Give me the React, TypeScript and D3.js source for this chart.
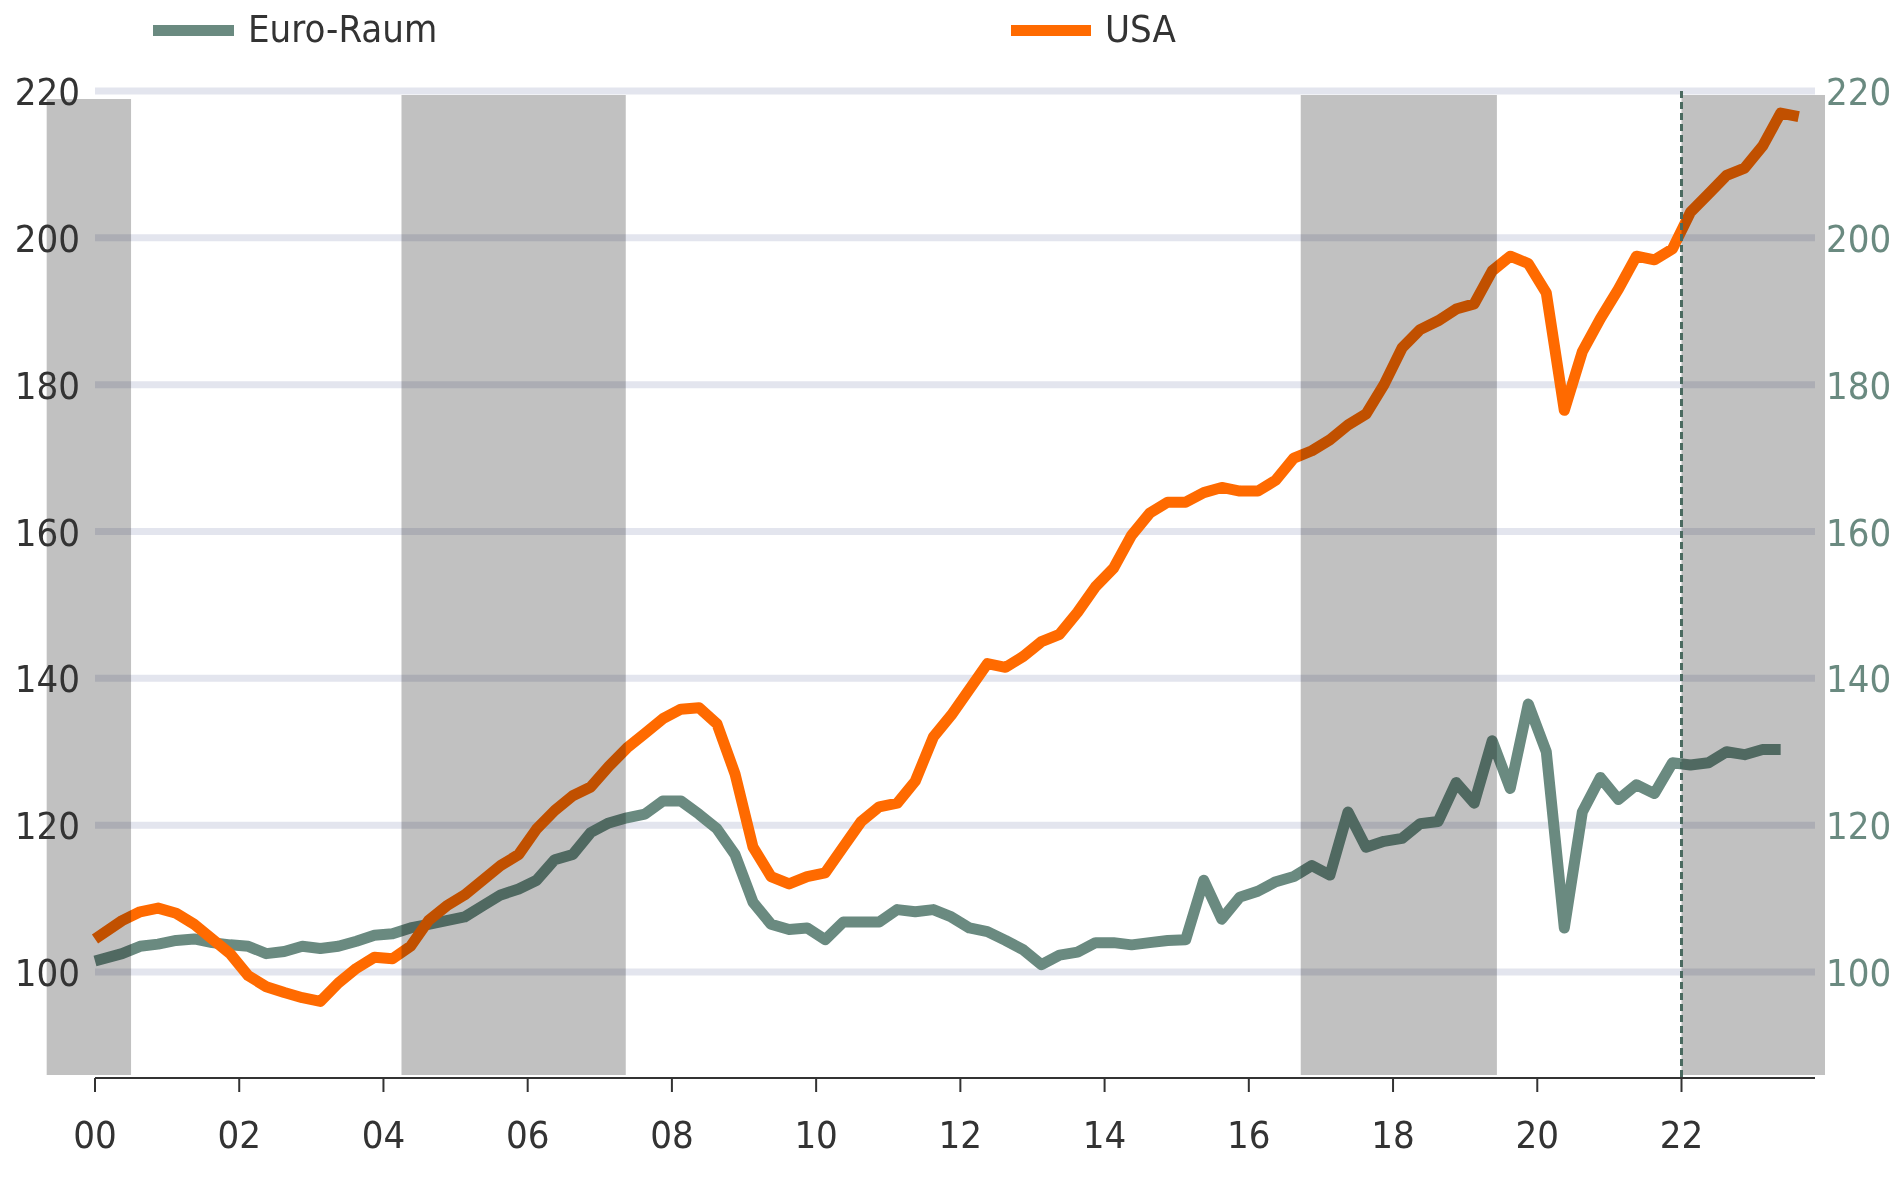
import React from "react";
import * as d3 from "d3";

const usa = [104.5,107,108.2,108.7,108,106.5,104.5,102.5,99.5,98,97.2,96.5,96,98.5,100.5,102,101.8,103.5,107,109,110.5,112.5,114.5,116,119.5,122,124,125.2,128,130.5,132.5,134.5,135.8,136,133.8,127,117,113,112,113,113.5,117,120.5,122.5,123,126,132,135,138.5,142,141.5,143,145,146,149,152.5,155,159.5,162.5,164,164,165.3,166,165.5,165.5,167,170,171,172.5,174.5,176,180,185,187.5,188.7,190.3,191,195.5,197.5,196.5,192.5,176.5,184.5,189,193,197.5,197,198.5,203.5,206,208.5,209.5,212.5,217,216.5];
const euro = [101.5,102.5,103.5,103.8,104.3,104.5,104,103.7,103.5,102.5,102.8,103.5,103.2,103.5,104.2,105,105.2,106,106.5,107,107.5,109,110.5,111.3,112.5,115.3,116,119,120.3,121,121.5,123.3,123.3,121.5,119.5,116,109.5,106.5,105.8,106,104.4,106.8,106.8,106.8,108.5,108.2,108.5,107.5,106,105.5,104.3,103,101,102.3,102.7,104,104,103.7,104,104.3,104.4,112.5,107.2,110.2,111,112.3,113,114.5,113.2,121.8,117,117.8,118.2,120.2,120.5,125.8,123,131.5,125,136.5,130,106,121.8,126.5,123.5,125.5,124.3,128.5,128.2,128.5,130,129.6,130.3,130.3];
const shades: [number, number][] = [[1999.33,2000.5],[2004.25,2007.36],[2016.72,2019.44],[2022,2024.02]];
const yTicks = [100,120,140,160,180,200,220];
const xTicks = [2000,2002,2004,2006,2008,2010,2012,2014,2016,2018,2020,2022];
const seriesNames = ["Euro-Raum","USA"];

const EURO = "#6a8a80", US = "#ff6a00";
const FONT = "'DejaVu Sans Condensed','DejaVu Sans',sans-serif";

export default function App() {
  const x = d3.scaleLinear().domain([2000, 2022]).range([95, 1681.5]);
  const y = d3.scaleLinear().domain([100, 220]).range([972, 91]);
  const t = (i: number) => (i === 0 ? 2000 : 2000.125 + 0.25 * i);
  const line = d3.line<number>().x((_, i) => x(t(i))).y(d => y(d)).curve(d3.curveLinear);
  const yBottom = 1078;
  return (
    <svg width={1898} height={1197} style={{ position: "absolute", left: 0, top: 0, background: "#fff" }} fontFamily={FONT}>
      {yTicks.map(v => (
        <line key={v} x1={95} x2={1815} y1={y(v)} y2={y(v)} stroke="#e3e5ee" strokeWidth={7} />
      ))}
      <path d={line(euro) || ""} fill="none" stroke={EURO} strokeWidth={11} strokeLinejoin="round" />
      <path d={line(usa) || ""} fill="none" stroke={US} strokeWidth={11} strokeLinejoin="round" />
      {shades.map(([a, b], i) => (
        <rect key={i} x={Math.max(x(a), 46)} width={Math.min(x(b), 1825) - Math.max(x(a), 46)} y={i === 0 ? 99 : 95} height={1075 - (i === 0 ? 99 : 95)} fill="#c1c1c1" style={{ mixBlendMode: "multiply" }} />
      ))}
      <line x1={x(2022)} x2={x(2022)} y1={91} y2={yBottom} stroke="#4a6a60" strokeWidth={3} strokeDasharray="7,4" />
      <line x1={95} x2={1815} y1={yBottom} y2={yBottom} stroke="#333" strokeWidth={2} />
      {xTicks.map(v => (
        <g key={v}>
          <line x1={x(v)} x2={x(v)} y1={yBottom} y2={yBottom + 14} stroke="#333" strokeWidth={2} />
          <text x={x(v)} y={1148} textAnchor="middle" fontSize={38} fill="#333" fontStretch="condensed">{String(v % 100).padStart(2, "0")}</text>
        </g>
      ))}
      {yTicks.map(v => (
        <g key={v}>
          <text x={80} y={y(v) + 14} textAnchor="end" fontSize={38} fill="#333">{v}</text>
          <text x={1826} y={y(v) + 14} textAnchor="start" fontSize={38} fill={EURO}>{v}</text>
        </g>
      ))}
      <rect x={153} y={25} width={81} height={11} fill={EURO} />
      <text x={248} y={42} fontSize={38} fill="#333">{seriesNames[0]}</text>
      <rect x={1011} y={25} width={80} height={11} fill={US} />
      <text x={1105} y={42} fontSize={38} fill="#333">{seriesNames[1]}</text>
    </svg>
  );
}
